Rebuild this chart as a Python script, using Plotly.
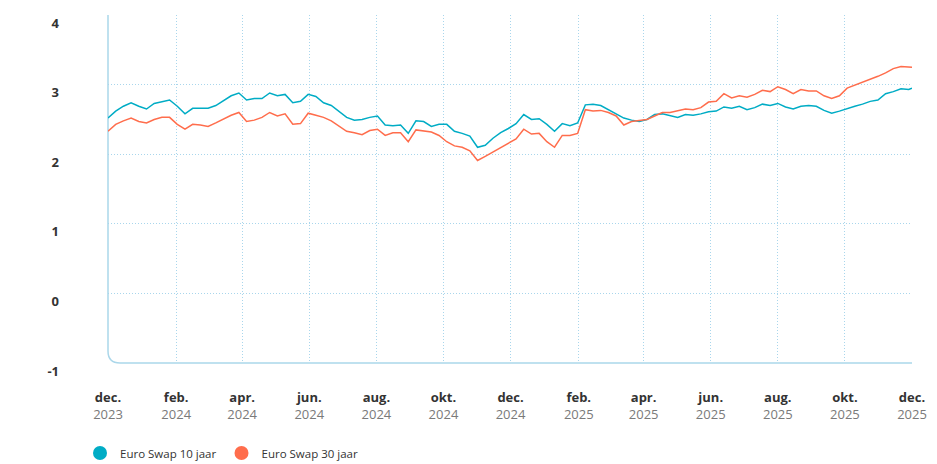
import plotly.graph_objects as go

dates = [
    "2023-12-01", "2023-12-08", "2023-12-15", "2023-12-22", "2023-12-29",
    "2024-01-05", "2024-01-12", "2024-01-19", "2024-01-26", "2024-02-02",
    "2024-02-09", "2024-02-16", "2024-02-23", "2024-03-01", "2024-03-08",
    "2024-03-15", "2024-03-22", "2024-03-29", "2024-04-05", "2024-04-12",
    "2024-04-19", "2024-04-26", "2024-05-03", "2024-05-10", "2024-05-17",
    "2024-05-24", "2024-05-31", "2024-06-07", "2024-06-14", "2024-06-21",
    "2024-06-28", "2024-07-05", "2024-07-12", "2024-07-19", "2024-07-26",
    "2024-08-02", "2024-08-09", "2024-08-16", "2024-08-23", "2024-08-30",
    "2024-09-06", "2024-09-13", "2024-09-20", "2024-09-27", "2024-10-04",
    "2024-10-11", "2024-10-18", "2024-10-25", "2024-11-01", "2024-11-08",
    "2024-11-15", "2024-11-22", "2024-11-29", "2024-12-06", "2024-12-13",
    "2024-12-20", "2024-12-27", "2025-01-03", "2025-01-10", "2025-01-17",
    "2025-01-24", "2025-01-31", "2025-02-07", "2025-02-14", "2025-02-21",
    "2025-02-28", "2025-03-07", "2025-03-14", "2025-03-21", "2025-03-28",
    "2025-04-04", "2025-04-11", "2025-04-18", "2025-04-25", "2025-05-02",
    "2025-05-09", "2025-05-16", "2025-05-23", "2025-05-30", "2025-06-06",
    "2025-06-13", "2025-06-20", "2025-06-27", "2025-07-04", "2025-07-11",
    "2025-07-18", "2025-07-25", "2025-08-01", "2025-08-08", "2025-08-15",
    "2025-08-22", "2025-08-29", "2025-09-05", "2025-09-12", "2025-09-19",
    "2025-09-26", "2025-10-03", "2025-10-10", "2025-10-17", "2025-10-24",
    "2025-10-31", "2025-11-07", "2025-11-14", "2025-11-21", "2025-11-28",
    "2025-12-01",
]

swap_10y = [
    2.52, 2.62, 2.69, 2.74, 2.69, 2.65, 2.73, 2.76, 2.78, 2.69,
    2.58, 2.66, 2.66, 2.66, 2.70, 2.77, 2.84, 2.88, 2.78, 2.80,
    2.80, 2.88, 2.84, 2.86, 2.74, 2.76, 2.86, 2.83, 2.74, 2.70,
    2.62, 2.53, 2.49, 2.50, 2.53, 2.55, 2.42, 2.41, 2.42, 2.30,
    2.48, 2.47, 2.40, 2.43, 2.43, 2.33, 2.30, 2.26, 2.10, 2.13,
    2.23, 2.31, 2.37, 2.44, 2.57, 2.50, 2.51, 2.43, 2.33, 2.44,
    2.41, 2.45, 2.71, 2.72, 2.70, 2.64, 2.58, 2.52, 2.49, 2.47,
    2.50, 2.57, 2.58, 2.55, 2.53, 2.57, 2.56, 2.58, 2.61, 2.62,
    2.68, 2.66, 2.69, 2.64, 2.67, 2.72, 2.70, 2.73, 2.68, 2.65,
    2.69, 2.70, 2.69, 2.63, 2.59, 2.62, 2.66, 2.69, 2.72, 2.76,
    2.78, 2.87, 2.90, 2.94, 2.93, 2.95,
]

swap_30y = [
    2.33, 2.43, 2.48, 2.52, 2.47, 2.45, 2.50, 2.53, 2.53, 2.43,
    2.36, 2.43, 2.42, 2.40, 2.45, 2.51, 2.56, 2.60, 2.47, 2.49,
    2.53, 2.60, 2.55, 2.58, 2.43, 2.44, 2.59, 2.56, 2.53, 2.48,
    2.40, 2.33, 2.31, 2.28, 2.34, 2.36, 2.27, 2.31, 2.31, 2.18,
    2.35, 2.34, 2.32, 2.27, 2.18, 2.12, 2.10, 2.05, 1.91, 1.97,
    2.03, 2.10, 2.16, 2.22, 2.36, 2.29, 2.30, 2.18, 2.10, 2.27,
    2.27, 2.30, 2.64, 2.62, 2.63, 2.60, 2.55, 2.42, 2.47, 2.48,
    2.50, 2.55, 2.60, 2.60, 2.63, 2.65, 2.64, 2.67, 2.75, 2.76,
    2.87, 2.81, 2.84, 2.82, 2.86, 2.92, 2.90, 2.97, 2.93, 2.87,
    2.93, 2.91, 2.91, 2.84, 2.80, 2.84, 2.95, 2.99, 3.04, 3.08,
    3.12, 3.17, 3.23, 3.26, 3.26, 3.25,
]

tick_dates = [
    "2023-12-01", "2024-02-01", "2024-04-01", "2024-06-01", "2024-08-01",
    "2024-10-01", "2024-12-01", "2025-02-01", "2025-04-01", "2025-06-01",
    "2025-08-01", "2025-10-01", "2025-12-01",
]
tick_months = ["dec.", "feb.", "apr.", "jun.", "aug.", "okt.", "dec.",
               "feb.", "apr.", "jun.", "aug.", "okt.", "dec."]
tick_years = ["2023", "2024", "2024", "2024", "2024", "2024", "2024",
              "2025", "2025", "2025", "2025", "2025", "2025"]

y_tickvals = [-1, 0, 1, 2, 3, 4]
y_ticktext = ["-1", "0", "1", "2", "3", "4"]

series_names = ["Euro Swap 10 jaar", "Euro Swap 30 jaar"]
colors = ["#00ACC5", "#FF6D4C"]

grid_color = "#A9D6EC"
axis_color = "#ABD7EA"
font_family = "Open Sans, Noto Sans, sans-serif"

# the page body adds an 8px offset; size the figure to fill the window
W, H = 929, 456

fig = go.Figure()
for name, vals, col in zip(series_names, [swap_10y, swap_30y], colors):
    fig.add_trace(go.Scatter(
        x=dates, y=vals, mode="lines", name=name,
        line=dict(color=col, width=1.5), showlegend=False,
    ))
    fig.add_trace(go.Scatter(
        x=[None], y=[None], mode="markers", name=name,
        marker=dict(color=col, size=14, symbol="circle"), showlegend=True,
    ))

ticktext = [f"<b>{m}</b><br><span style='color:#7a7a7a'>{y}</span>"
            for m, y in zip(tick_months, tick_years)]

fig.update_layout(
    width=W, height=H,
    margin=dict(l=100, r=25, t=7, b=101),
    paper_bgcolor="white", plot_bgcolor="white",
    font=dict(family=font_family, color="#333333", size=13),
    xaxis=dict(
        type="date", range=["2023-12-01", "2025-12-01"],
        tickvals=tick_dates, ticktext=ticktext,
        showgrid=True, gridcolor=grid_color, griddash="1px,2px", gridwidth=1,
        showline=False, zeroline=False, ticks="",
        ticklabelstandoff=25,
        tickfont=dict(size=13, color="#333333"),
    ),
    yaxis=dict(
        range=[-1, 4.001], tickvals=y_tickvals, ticktext=y_ticktext,
        showgrid=True, gridcolor=grid_color, griddash="1px,2px", gridwidth=1,
        showline=False, zeroline=False, ticks="",
        ticklabelstandoff=48, ticklabelshift=8,
        tickfont=dict(size=13, color="#333333", weight="bold"),
    ),
    legend=dict(
        orientation="h", xref="container", yref="container",
        x=72 / W, y=1 - 445 / H, xanchor="left", yanchor="middle",
        font=dict(size=11.5, color="#333333"),
        itemwidth=30, tracegroupgap=0,
    ),
    shapes=[dict(
        type="path", xref="paper", yref="paper",
        path="M 0,1 L 0,0.0345 Q 0,0 0.0149,0 L 1,0",
        line=dict(color=axis_color, width=1.5), layer="below",
    )],
)

fig.write_html("out.html")
